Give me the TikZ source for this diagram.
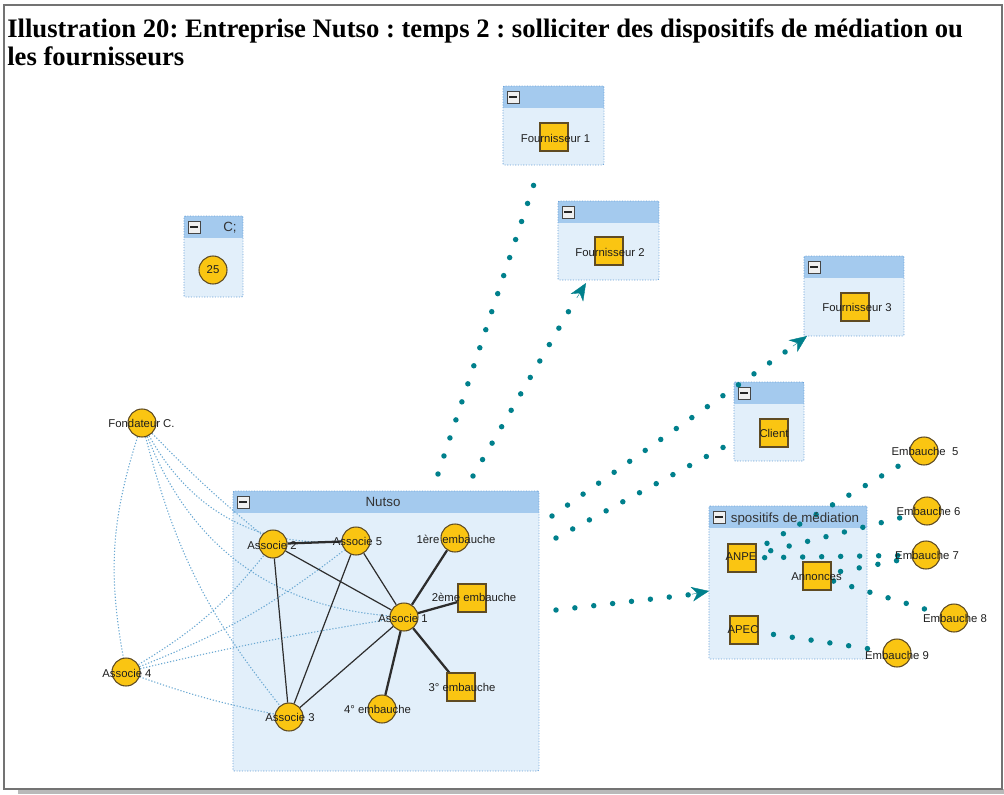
\documentclass[tikz,border=0pt]{standalone}
\usepackage{fontspec}
\setmainfont{Liberation Serif}
\newfontfamily\labfont{Liberation Sans}
\usetikzlibrary{arrows.meta,fit}
\frenchspacing
\definecolor{nodefill}{RGB}{250,197,18}
\definecolor{nodeborder}{RGB}{95,75,35}
\definecolor{hdr}{RGB}{164,202,238}
\definecolor{bodyc}{RGB}{226,239,250}
\definecolor{boxline}{RGB}{105,160,215}
\definecolor{flowc}{RGB}{0,128,140}
\definecolor{weakc}{RGB}{105,168,210}
\definecolor{edgec}{RGB}{45,45,45}
\definecolor{framec}{RGB}{115,115,115}
\definecolor{shadowc}{RGB}{185,185,185}
\pgfdeclarelayer{back}
\pgfdeclarelayer{bg}
\pgfdeclarelayer{edges}
\pgfsetlayers{back,bg,edges,main}
\tikzset{
  actor/.style={circle, fill=nodefill, draw=nodeborder, line width=0.8pt, minimum size=21pt, inner sep=0pt},
  org/.style={rectangle, fill=nodefill, draw=nodeborder, line width=0.8pt, minimum size=21pt, inner sep=0pt},
  lbl/.style={font=\labfont\fontsize{8.5}{10}\selectfont, text=black!88, inner sep=0pt},
  hdrtext/.style={font=\labfont\fontsize{10}{12}\selectfont, text=black!80, inner sep=0pt},
  titletext/.style={font=\bfseries\fontsize{20}{24}\selectfont, inner sep=0pt, anchor=base west},
  tie/.style={draw=edgec, line width=0.9pt},
  strongtie/.style={draw=edgec, line width=1.7pt},
  weak/.style={draw=weakc, line width=0.8pt, dash pattern=on 0.9pt off 1.4pt},
  flow/.style={draw=flowc, line width=4.1pt, line cap=round, dash pattern=on 0pt off 14.25pt},
  arrowhead/.style={draw=flowc, line width=0.3pt, -{Stealth[length=13pt, width=11pt, inset=4pt]}},
  boxframe/.style={draw=boxline, line width=0.7pt, dash pattern=on 0.8pt off 1.2pt, inner sep=0pt, rounded corners=1pt},
  minusbtn/.style={rectangle, minimum size=9pt, inner sep=0pt, fill=gray!12, draw=gray!55!black, line width=0.5pt,
    path picture={\draw[line width=1.4pt, black!85] ([xshift=-2.7pt]path picture bounding box.center) -- ([xshift=2.7pt]path picture bounding box.center);}}
}
\newcommand\grpbox[5]{%
  \fill[bodyc] (#2,#3) rectangle (#4,#5);
  \fill[hdr] (#2,#3) rectangle (#4,#3+22);
  \node[boxframe, fit={(#2,#3) (#4,#5)}] (#1) {};
  \node[minusbtn] (#1-min) at (#2+10,#3+11) {};
}
\begin{document}
\begin{tikzpicture}[x=0.75pt,y=-0.75pt]
\useasboundingbox (0,0) rectangle (1004,794);
\begin{pgfonlayer}{back}
\fill[white] (0,0) rectangle (1004,794);
\end{pgfonlayer}
\fill[shadowc] (18,789) rectangle (1004,794);
\draw[framec, line width=1.5pt] (4,5) rectangle (1002,789);
\node[titletext] (t1) at (7,37) {Illustration 20: Entreprise Nutso : temps 2 : solliciter des dispositifs de médiation ou};
\node[titletext] (t2) at (7,65) {les fournisseurs};

% group boxes
\begin{pgfonlayer}{bg}
\grpbox{boxc}{184}{216}{243}{297}
\grpbox{boxf1}{503}{86}{604}{165}
\grpbox{boxf2}{558}{201}{659}{280}
\grpbox{boxf3}{804}{256}{904}{336}
\grpbox{boxclient}{734}{382}{804}{461}
\grpbox{boxnutso}{233}{491}{539}{771}
\grpbox{boxmed}{709}{506}{867}{659}
\end{pgfonlayer}
\node[hdrtext] (hc) at (230,228) {C;};
\node[hdrtext] (hn) at (383,502) {Nutso};
\node[hdrtext] (hm) at (795,519) {spositifs de médiation};

% nodes
\node[actor] (fond) at (142,423) {};
\node[actor] (a4) at (126,672) {};
\node[actor] (a2) at (273,544) {};
\node[actor] (a5) at (356,541) {};
\node[actor] (e1) at (455,538) {};
\node[org] (e2) at (472,598) {};
\node[actor] (a1) at (404,617) {};
\node[org] (e3) at (461,687) {};
\node[actor] (e4) at (382,709) {};
\node[actor] (a3) at (289,717) {};
\node[actor] (n25) at (213,270) {};
\node[org] (four1) at (554,137) {};
\node[org] (four2) at (609,251) {};
\node[org] (four3) at (855,307) {};
\node[org] (client) at (774,433) {};
\node[org] (anpe) at (742,558) {};
\node[org] (annonces) at (817,576) {};
\node[org] (apec) at (744,630) {};
\node[actor] (emb5) at (924,451) {};
\node[actor] (emb6) at (927,511) {};
\node[actor] (emb7) at (926,555) {};
\node[actor] (emb8) at (954,618) {};
\node[actor] (emb9) at (897,653) {};

% labels
\node[lbl] (l-fond) at (141.5,423) {Fondateur C.};
\node[lbl] (l-a4) at (127,673) {Associe 4};
\node[lbl] (l-a2) at (272,545) {Associe 2};
\node[lbl] (l-a5) at (357.5,541) {Associe 5};
\node[lbl] (l-e1) at (456,539) {1ère embauche};
\node[lbl] (l-e2) at (474,597) {2ème embauche};
\node[lbl] (l-a1) at (403,618) {Associe 1};
\node[lbl] (l-e3) at (462,687) {3° embauche};
\node[lbl] (l-e4) at (377.5,709) {4° embauche};
\node[lbl] (l-a3) at (290,717) {Associe 3};
\node[lbl] (l-25) at (213,270) {25};
\node[lbl] (l-f1) at (555.5,138) {Fournisseur 1};
\node[lbl] (l-f2) at (610,252) {Fournisseur 2};
\node[lbl] (l-f3) at (857,307) {Fournisseur 3};
\node[lbl] (l-client) at (774,433) {Client};
\node[lbl] (l-anpe) at (741,557) {ANPE};
\node[lbl] (l-ann) at (816.5,577) {Annonces};
\node[lbl] (l-apec) at (743,630) {APEC};
\node[lbl] (l-e5) at (925,451) {Embauche\ \ 5};
\node[lbl] (l-e6) at (928.5,511) {Embauche 6};
\node[lbl] (l-e7) at (927,555) {Embauche 7};
\node[lbl] (l-e8) at (955,618) {Embauche 8};
\node[lbl] (l-e9) at (897,655) {Embauche 9};

% flow end points (first dot, last dot, arrow base, arrow tip)
\coordinate (nf1s) at (438,474);
\coordinate (nf1e) at (535,181);
\coordinate (nf2s) at (473,476);
\coordinate (nf2d) at (570,309);
\coordinate (nf2b) at (576.8,297.9);
\coordinate (nf2t) at (586,283);
\coordinate (nf3s) at (552,516);
\coordinate (nf3d) at (785,352);
\coordinate (nf3b) at (792.9,346.2);
\coordinate (nf3t) at (807,336);
\coordinate (ncls) at (556,538);
\coordinate (ncle) at (722,448);
\coordinate (nmeds) at (556,610);
\coordinate (nmedd) at (687,595);
\coordinate (nmedb) at (691.9,594.2);
\coordinate (nmedt) at (709,591);

\begin{pgfonlayer}{edges}
% weak (dotted blue) ties
\draw[weak] (fond) to[bend right=14] (a4);
\draw[weak] (fond) to[bend right=3] (a2);
\draw[weak] (fond) to[bend right=32] (a5);
\draw[weak] (fond) to[bend right=32] (a1);
\draw[weak] (fond) to[bend right=12] (a3);
\draw[weak] (a4) to[bend right=10] (a2);
\draw[weak] (a4) to[bend right=8] (a5);
\draw[weak] (a4) to[bend left=2] (a1);
\draw[weak] (a4) to[bend right=4] (a3);
% solid ties
\draw[strongtie] (a2) -- (a5);
\draw[tie] (a2) -- (a1);
\draw[tie] (a2) -- (a3);
\draw[tie] (a5) -- (a1);
\draw[tie] (a5) -- (a3);
\draw[tie] (a1) -- (a3);
\draw[strongtie] (a1) -- (e1);
\draw[strongtie] (a1) -- (e2);
\draw[strongtie] (a1) -- (e3);
\draw[strongtie] (a1) -- (e4);
% flows
\draw[flow, shorten >=-2pt] (nf1s) -- (nf1e);
\draw[flow, shorten >=-2pt] (nf2s) -- (nf2d);
\draw[arrowhead] (nf2b) -- (nf2t);
\draw[flow, shorten >=-2pt] (nf3s) -- (nf3d);
\draw[arrowhead] (nf3b) -- (nf3t);
\draw[flow, shorten >=-2pt] (ncls) -- (ncle);
\draw[flow, shorten >=-2pt] (nmeds) -- (nmedd);
\draw[arrowhead] (nmedb) -- (nmedt);
\draw[flow, shorten <=9.1pt, shorten >=8.85pt] (anpe) -- (emb5);
\draw[flow, shorten <=11pt, shorten >=7.35pt] (anpe) -- (emb6);
\draw[flow, shorten <=6.1pt, shorten >=7.4pt] (anpe) -- (emb7);
\draw[flow, shorten <=6.9pt, shorten >=8.6pt] (annonces) -- (emb7);
\draw[flow, shorten <=1.6pt, shorten >=9.4pt] (annonces) -- (emb8);
\draw[flow, shorten <=11.35pt, shorten >=8.55pt] (apec) -- (emb9);
\end{pgfonlayer}
\end{tikzpicture}
\end{document}
